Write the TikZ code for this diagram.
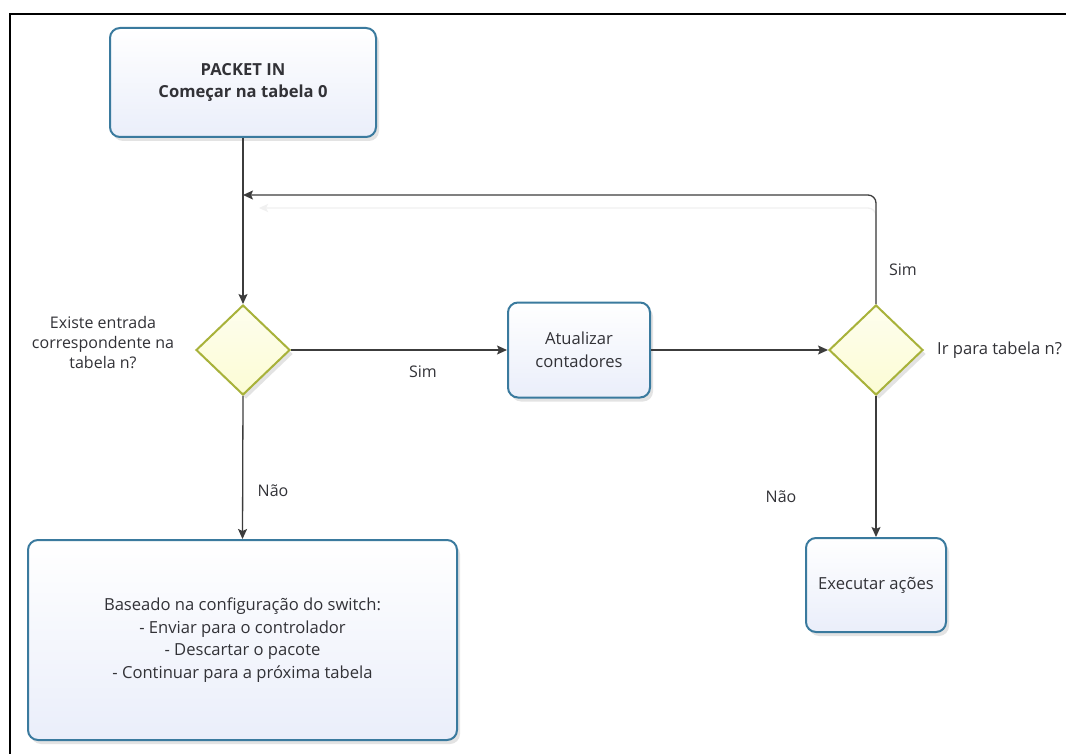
\documentclass[tikz,border=0pt]{standalone}
\usepackage{fontspec}
\setmainfont{Open Sans}
\usetikzlibrary{shapes.geometric,shadows,arrows.meta}
\definecolor{boxline}{RGB}{58,122,158}
\definecolor{boxfill}{RGB}{234,238,250}
\definecolor{dialine}{RGB}{168,178,58}
\definecolor{diafill}{RGB}{252,252,212}
\definecolor{txt}{RGB}{50,50,55}
\definecolor{conn}{RGB}{60,60,60}
\tikzset{
  procbox/.style={draw=boxline, line width=2pt, rounded corners=10pt,
    top color=white, bottom color=boxfill, text=txt, align=center,
    inner sep=0pt, font=\fontsize{16.6}{22.5}\selectfont,
    drop shadow={shadow xshift=3pt, shadow yshift=-4pt, opacity=0.22, fill=gray}},
  decision/.style={diamond, draw=dialine, line width=2pt, inner sep=0pt,
    minimum width=94pt, minimum height=90pt,
    top color=white!60!diafill, bottom color=diafill,
    drop shadow={shadow xshift=3pt, shadow yshift=-4pt, opacity=0.22, fill=gray}},
  lbl/.style={text=txt, align=center, font=\fontsize{16}{20}\selectfont, inner sep=0pt},
  flow/.style={draw=conn, line width=1.3pt, -{Stealth[length=10pt,width=9pt,inset=2pt]}},
}
\begin{document}
\begin{tikzpicture}[x=1pt,y=-1pt]
\useasboundingbox (0,0) rectangle (1066,754);
\fill[white] (0,0) rectangle (1066,754);
% frame
\draw[black, line width=1.6pt] (10,754) -- (10,14) -- (1066,14);

% nodes
\node[procbox, minimum width=266pt, minimum height=109pt] (start) at (243,82.5)
  {\textbf{PACKET IN}\\\textbf{Começar na tabela 0}};
\node[decision] (dL) at (243,350) {};
\node[procbox, minimum width=142pt, minimum height=95pt] (upd) at (579,350)
  {Atualizar\\contadores};
\node[decision] (dR) at (876,350) {};
\node[procbox, minimum width=429pt, minimum height=200pt] (cfg) at (242.5,640)
  {Baseado na configuração do switch:\\- Enviar para o controlador\\- Descartar o pacote\\- Continuar para a próxima tabela};
\node[procbox, minimum width=140pt, minimum height=94pt] (exe) at (876,585)
  {Executar ações};

% labels
\node[lbl] (qL) at (103,343) {Existe entrada\\correspondente na\\tabela n?};
\node[lbl, anchor=west, font=\fontsize{16.6}{20}\selectfont] (qR) at (937,350) {Ir para tabela n?};
\node[lbl] (sim1) at (423,372) {Sim};
\node[lbl] (sim2) at (903,270) {Sim};
\node[lbl] (nao1) at (273,491) {Não};
\node[lbl] (nao2) at (781,497) {Não};

% connectors
\coordinate (loopin) at (243,195);
\coordinate (loopghost) at (259,208);
\draw[gray!12, line width=1.3pt, rounded corners=8pt,
  -{Stealth[length=9pt,width=8pt,inset=2pt]}] (dR.north) |- (loopghost);
\draw[draw=conn, line width=1.3pt] (start.south) -- (loopin);
\draw[flow] (loopin) -- (dL.north);
\draw[flow, rounded corners=8pt] (dR.north) |- (loopin);
\draw[flow] (dL.east) -- (upd.west);
\draw[flow] (upd.east) -- (dR.west);
\draw[flow] (dL.south) -- (cfg.north);
\draw[flow] (dR.south) -- (exe.north);
\end{tikzpicture}
\end{document}
